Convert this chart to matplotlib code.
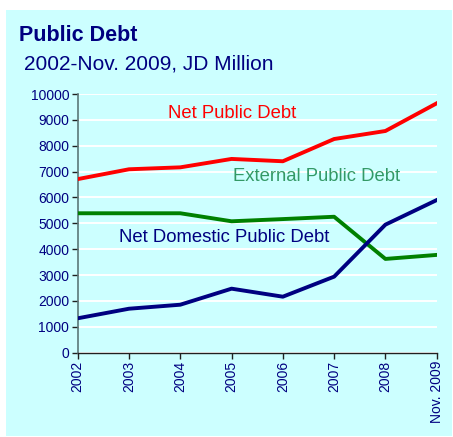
import matplotlib
matplotlib.use("Agg")
import matplotlib.pyplot as plt
from matplotlib.patches import Rectangle

years = ["2002", "2003", "2004", "2005", "2006", "2007", "2008", "Nov. 2009"]
net_public = [6710, 7090, 7165, 7490, 7400, 8260, 8570, 9640]
external = [5390, 5390, 5390, 5080, 5165, 5255, 3625, 3780]
net_domestic = [1330, 1700, 1855, 2475, 2165, 2940, 4950, 5900]
y_ticks = list(range(0, 10001, 1000))

W, H = 453, 437
BG = "#CCFFFF"
NAVY = "#000080"

plt.rcParams["font.family"] = ["Liberation Sans", "DejaVu Sans"]

fig = plt.figure(figsize=(W / 100, H / 100), dpi=100, facecolor="white")

# cyan panel behind everything
fig.patches.append(Rectangle((6 / W, 1 - 436 / H), (452 - 6) / W, (436 - 10) / H,
                             transform=fig.transFigure, facecolor=BG,
                             edgecolor="none", zorder=-10))

ax = fig.add_axes([77.7 / W, 1 - 352.7 / H, (436.7 - 77.7) / W, (352.7 - 94) / H])
ax.set_facecolor(BG)
ax.set_zorder(1)

x = list(range(len(years)))
ax.plot(x, net_public, color="#FF0000", lw=2.8, solid_joinstyle="round", zorder=3)
ax.plot(x, external, color="#008000", lw=2.8, solid_joinstyle="round", zorder=3)
ax.plot(x, net_domestic, color=NAVY, lw=2.8, solid_joinstyle="round", zorder=4)

ax.set_xlim(0, len(years) - 1)
ax.set_ylim(0, 10000)
ax.set_yticks(y_ticks)
ax.set_yticklabels([str(v) for v in y_ticks])
ax.set_xticks(x)
ax.set_xticklabels(years, rotation=90, va="top", ha="center")

ax.grid(axis="y", color="white", lw=1.4, zorder=1)
ax.set_axisbelow(True)

for s in ("top", "right"):
    ax.spines[s].set_visible(False)
ax.spines["left"].set_color("#5A7878")
ax.spines["left"].set_linewidth(1.2)
ax.spines["bottom"].set_color("#202020")
ax.spines["bottom"].set_linewidth(1.0)

ax.tick_params(axis="both", direction="out", length=4, width=1, color="#202020",
               labelcolor=NAVY, labelsize=10, pad=2)

# series names inside the plot
ax.text(232 / W, 1 - 113 / H, "Net Public Debt", transform=fig.transFigure,
        color="#FF0000", fontsize=13.3, ha="center", va="center")
ax.text(317 / W, 1 - 177 / H, "External Public Debt", transform=fig.transFigure,
        color="#339966", fontsize=13.3, ha="center", va="center")
ax.text(224 / W, 1 - 237 / H, "Net Domestic Public Debt", transform=fig.transFigure,
        color=NAVY, fontsize=13.3, ha="center", va="center")

fig.text(19 / W, 1 - 41 / H, "Public Debt", color=NAVY, fontsize=15.5,
         fontweight="bold", ha="left", va="baseline")
fig.text(24 / W, 1 - 70 / H, "2002-Nov. 2009, JD Million", color=NAVY,
         fontsize=15, ha="left", va="baseline")

fig.savefig("out.png", dpi=100, facecolor="white")
